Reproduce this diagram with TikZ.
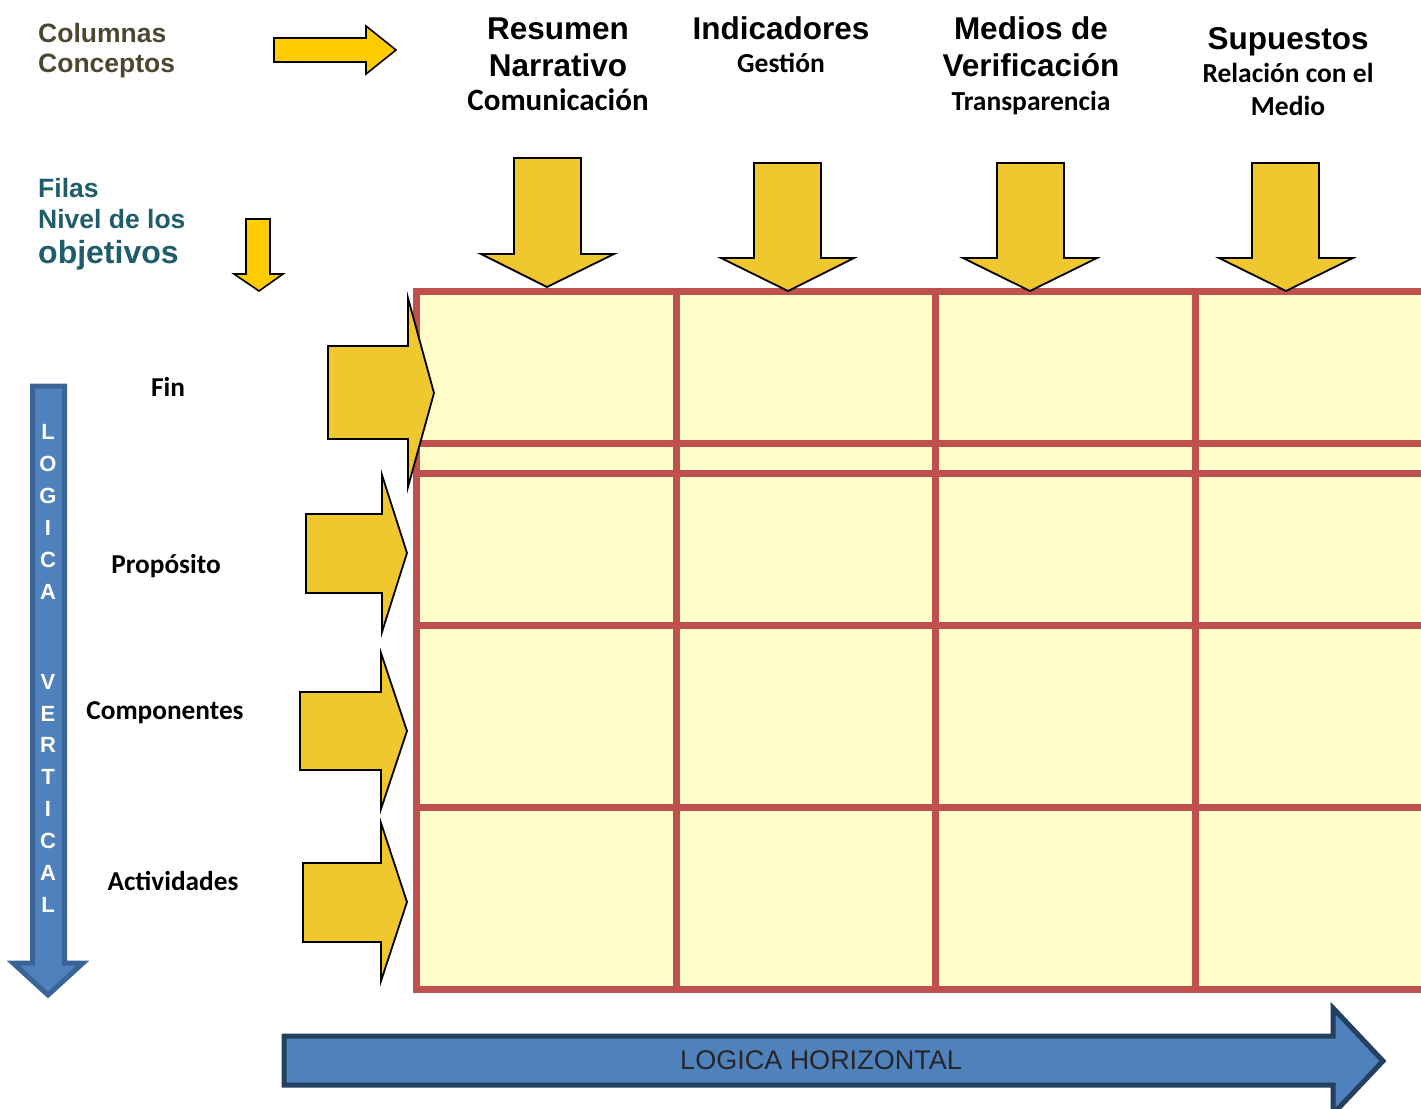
\documentclass[tikz,border=0pt]{standalone}
\usepackage{fontspec}
\setmainfont{Liberation Sans}
\newfontfamily\carlito{Carlito}
\usepackage{tikz}

\definecolor{celda}{HTML}{FFFDC9}
\definecolor{rojo}{HTML}{C0504D}
\definecolor{oro}{HTML}{EEC82E}
\definecolor{amarillo}{HTML}{FFCC00}
\definecolor{azul}{HTML}{4F81BD}
\definecolor{azulborde}{HTML}{3B6496}
\definecolor{marino}{HTML}{243F60}
\definecolor{oliva}{HTML}{4C4830}
\definecolor{verdeazul}{HTML}{1E5D69}

\begin{document}
\begin{tikzpicture}[x=1pt,y=-1pt]
	\tikzstyle{flecha}=[draw=black,line width=1.8pt,fill=oro]
	\tikzstyle{flechita}=[draw=black,line width=1.6pt,fill=amarillo]
	\tikzstyle{rejilla}=[draw=rojo,line width=7pt]
	\tikzstyle{titulo}=[anchor=base,inner sep=0pt,font=\bfseries\fontsize{31.5pt}{33pt}\selectfont]
	\tikzstyle{sub}=[anchor=base,inner sep=0pt,font=\carlito\bfseries\fontsize{27.5pt}{29pt}\selectfont]
	\tikzstyle{fila}=[anchor=base,inner sep=0pt,font=\carlito\bfseries\fontsize{27.3pt}{29pt}\selectfont]
	\tikzstyle{esquina}=[anchor=base west,inner sep=0pt,font=\bfseries\fontsize{26.5pt}{28pt}\selectfont]
	\tikzstyle{letra}=[anchor=base,inner sep=0pt,text=white,font=\bfseries\fontsize{22pt}{22pt}\selectfont]

	\useasboundingbox (0,0) rectangle (1421,1108);
	\clip (0,0) rectangle (1421,1108);

	% matriz
	\fill[celda] (416,291) rectangle (1430,989);
	\draw[rejilla] (416,291) -- (1430,291);
	\draw[rejilla] (416,443) -- (1430,443);
	\draw[rejilla] (416,473) -- (1430,473);
	\draw[rejilla] (416,625) -- (1430,625);
	\draw[rejilla] (416,807) -- (1430,807);
	\draw[rejilla] (416,989) -- (1430,989);
	\draw[rejilla] (416,287.5) -- (416,992.5);
	\draw[rejilla] (676,287.5) -- (676,992.5);
	\draw[rejilla] (935,287.5) -- (935,992.5);
	\draw[rejilla] (1195,287.5) -- (1195,992.5);

	% esquina superior izquierda
	\node[esquina,text=oliva] (columnas) at (38,43) {Columnas};
	\node[esquina,text=oliva] (conceptos) at (38,73) {Conceptos};
	\node[esquina,text=verdeazul] (filas) at (38,197) {Filas};
	\node[esquina,text=verdeazul] (nivel) at (38,228) {Nivel de los};
	\node[esquina,text=verdeazul,font=\bfseries\fontsize{32pt}{34pt}\selectfont] (objetivos) at (38,263) {objetivos};

	\draw[flechita] (274,38) -- (366,38) -- (366,26) -- (396,50) -- (366,74) -- (366,62) -- (274,62) -- cycle;
	\draw[flechita] (246,219) -- (270,219) -- (270,274) -- (283,274) -- (259,291) -- (234,274) -- (246,274) -- cycle;

	% columnas
	\node[titulo] (resumen) at (558,40) {Resumen};
	\node[titulo] (narrativo) at (558,77) {Narrativo};
	\node[sub,font=\carlito\bfseries\fontsize{31pt}{33pt}\selectfont] (comunicacion) at (558,110) {Comunicación};
	\node[titulo] (indicadores) at (781,40) {Indicadores};
	\node[sub] (gestion) at (781,73) {Gestión};
	\node[titulo] (medios) at (1031,40) {Medios de};
	\node[titulo] (verificacion) at (1031,77) {Verificación};
	\node[sub] (transparencia) at (1031,110) {Transparencia};
	\node[titulo] (supuestos) at (1288,50) {Supuestos};
	\node[sub] (relacion) at (1288,82) {Relación con el};
	\node[sub] (medio) at (1288,115) {Medio};

	\draw[flecha] (514,158) -- (581,158) -- (581,254) -- (614,254) -- (547,287) -- (481,254) -- (514,254) -- cycle;
	\draw[flecha] (754,163) -- (821,163) -- (821,258) -- (854,258) -- (788,291) -- (721,258) -- (754,258) -- cycle;
	\draw[flecha] (997,163) -- (1064,163) -- (1064,258) -- (1097,258) -- (1030,291) -- (963,258) -- (997,258) -- cycle;
	\draw[flecha] (1252,163) -- (1319,163) -- (1319,258) -- (1353,258) -- (1286,291) -- (1219,258) -- (1252,258) -- cycle;

	% filas
	\node[fila] (fin) at (168,396) {Fin};
	\node[fila] (proposito) at (166,573) {Propósito};
	\node[fila] (componentes) at (165,719) {Componentes};
	\node[fila] (actividades) at (173,890) {Actividades};

	\draw[flecha] (328,346) -- (408,346) -- (408,298) -- (434,393) -- (408,487) -- (408,439) -- (328,439) -- cycle;
	\draw[flecha] (306,514) -- (382,514) -- (382,475) -- (407,553) -- (382,632) -- (382,593) -- (306,593) -- cycle;
	\draw[flecha] (300,692) -- (381,692) -- (381,653) -- (407,731) -- (381,809) -- (381,770) -- (300,770) -- cycle;
	\draw[flecha] (303,863) -- (381,863) -- (381,823) -- (407,902) -- (381,981) -- (381,942) -- (303,942) -- cycle;

	% logica vertical
	\draw[fill=azul,draw=azulborde,line width=5pt] (32.5,386) -- (64.5,386) -- (64.5,963) -- (83,963) -- (48,995) -- (13,963) -- (32.5,963) -- cycle;
	\node[letra] (v1) at (48,439) {L};
	\node[letra] (v2) at (48,471) {O};
	\node[letra] (v3) at (48,503) {G};
	\node[letra] (v4) at (48,535) {I};
	\node[letra] (v5) at (48,567) {C};
	\node[letra] (v6) at (48,599) {A};
	\node[letra] (v7) at (48,689) {V};
	\node[letra] (v8) at (48,721) {E};
	\node[letra] (v9) at (48,752) {R};
	\node[letra] (v10) at (48,784) {T};
	\node[letra] (v11) at (48,816) {I};
	\node[letra] (v12) at (48,848) {C};
	\node[letra] (v13) at (48,880) {A};
	\node[letra] (v14) at (48,912) {L};

	% logica horizontal
	\draw[fill=azul,draw=marino,line width=5pt] (284,1036) -- (1333,1036) -- (1333,1008) -- (1383,1061) -- (1333,1114) -- (1333,1085) -- (284,1085) -- cycle;
	\node[anchor=base,inner sep=0pt,text=black!85,font=\fontsize{27pt}{29pt}\selectfont] (horizontal) at (821,1069) {LOGICA HORIZONTAL};
\end{tikzpicture}
\end{document}
